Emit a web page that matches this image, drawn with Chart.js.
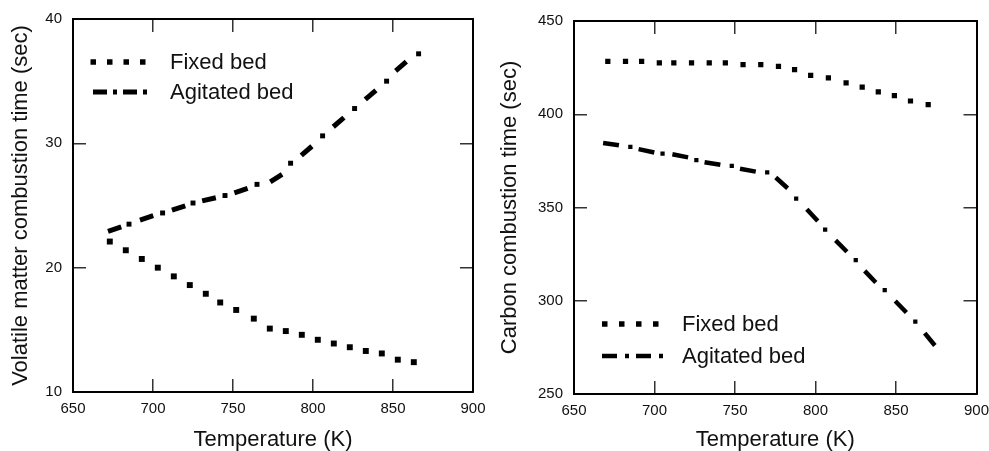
<!DOCTYPE html>
<html>
<head>
<meta charset="utf-8">
<title>Combustion time vs temperature</title>
<script src="https://cdn.jsdelivr.net/npm/chart.js@4.4.1/dist/chart.umd.min.js"></script>
<style>
  body { margin: 0; background: #fff; }
  #wrap { position: relative; width: 989px; height: 451px; }
  #volatile { position: absolute; left: 0; top: 0; }
  #carbon { position: absolute; left: 489px; top: 0; }
</style>
</head>
<body>
<div id="wrap">
  <canvas id="volatile" width="489" height="451"></canvas>
  <canvas id="carbon" width="500" height="451"></canvas>
</div>
<script>
const seriesNames = ['Fixed bed', 'Agitated bed'];
const tempTicks = [650, 700, 750, 800, 850, 900];
const volTicks = [10, 20, 30, 40];
const carTicks = [250, 300, 350, 400, 450];

// left panel - volatile matter combustion time (sec)
const volFixedT = [673, 683, 693, 703, 713, 723, 733, 742, 752, 763, 773, 783, 793, 803, 813, 823, 833, 843, 853, 863];
const volFixed = [22.1, 21.4, 20.7, 20.0, 19.3, 18.6, 17.9, 17.2, 16.6, 15.9, 15.1, 14.9, 14.6, 14.2, 13.9, 13.6, 13.3, 13.1, 12.6, 12.4];
const volAgitT = [676, 685, 696, 706, 716, 725, 735, 745, 755, 765, 777, 786, 796, 806, 816, 826, 836, 846, 855, 866];
const volAgit = [23.1, 23.5, 24.0, 24.4, 24.8, 25.2, 25.5, 25.8, 26.2, 26.7, 27.2, 28.4, 29.4, 30.6, 31.7, 32.8, 33.9, 35.0, 36.2, 37.2];

// right panel - carbon combustion time (sec)
const carFixedT = [671, 682, 692, 703, 712, 723, 734, 744, 755, 766, 777, 787, 797, 808, 819, 829, 839, 849, 859, 870];
const carFixed = [428.4, 428.4, 428.4, 427.5, 427.5, 427.5, 427.5, 427.5, 426.6, 426.6, 425.7, 423.9, 420.9, 419.5, 416.8, 414.6, 412.0, 410.0, 407.1, 405.2];
const carAgitT = [673, 685, 695, 705, 716, 726, 736, 748, 758, 770, 779, 788, 798, 806, 816, 825, 834, 843, 853, 862, 871];
const carAgit = [384.0, 382.5, 380.4, 378.9, 377.7, 375.4, 373.6, 372.3, 370.0, 368.8, 363.2, 354.8, 345.9, 338.2, 329.3, 321.8, 312.9, 305.7, 296.8, 288.8, 279.3];

const FONT = "'Liberation Sans', Arial, sans-serif";

function pts(xs, ys) {
  return xs.map((x, i) => ({ x: x, y: ys[i] }));
}

// angle of the curve at a point, so the dashes follow the line
function dashAngle(c) {
  const data = c.dataset.data, i = c.dataIndex;
  const a = data[Math.max(i - 1, 0)], b = data[Math.min(i + 1, data.length - 1)];
  const xs = c.chart.scales.x, ys = c.chart.scales.y;
  const dx = xs.getPixelForValue(b.x) - xs.getPixelForValue(a.x);
  const dy = ys.getPixelForValue(b.y) - ys.getPixelForValue(a.y);
  return Math.atan2(dy, dx) * 180 / Math.PI;
}

function fixedSet(data, r) {
  return {
    label: seriesNames[0], data: data, showLine: false,
    pointStyle: 'rect', pointRadius: r, pointBorderWidth: 0,
    pointBackgroundColor: '#000', pointBorderColor: '#000'
  };
}

function agitatedSet(data, dashR, dashW, dotR) {
  return {
    label: seriesNames[1], data: data, showLine: false,
    pointStyle: c => c.dataIndex % 2 ? 'rect' : 'line',
    pointRadius: c => c.dataIndex % 2 ? dotR : dashR,
    pointBorderWidth: c => c.dataIndex % 2 ? 0 : dashW,
    pointRotation: c => c.dataIndex % 2 ? 0 : dashAngle(c),
    pointBackgroundColor: '#000', pointBorderColor: '#000'
  };
}

function zeroPad(s) {
  s.paddingLeft = 0; s.paddingRight = 0; s.paddingTop = 0; s.paddingBottom = 0;
}

function scalesFor(yTicks, yTitle, yWidth, xHeight) {
  const grid = { drawOnChartArea: false, drawTicks: true, tickLength: -13, color: '#333', lineWidth: 1.5 };
  const border = { display: true, color: '#000', width: 2 };
  const xr = { type: 'linear', min: tempTicks[0], max: tempTicks[tempTicks.length - 1] };
  const yr = { type: 'linear', min: yTicks[0], max: yTicks[yTicks.length - 1] };
  const xStep = tempTicks[1] - tempTicks[0], yStep = yTicks[1] - yTicks[0];
  const tickFont = { family: FONT, size: 15 };
  const titleFont = { family: FONT, size: 22, lineHeight: 1 };
  return {
    x: Object.assign({}, xr, {
      position: 'bottom', grid: grid, border: border,
      ticks: { stepSize: xStep, padding: 21, font: tickFont, color: '#111', maxRotation: 0, autoSkip: false },
      title: { display: true, text: 'Temperature (K)', font: titleFont, color: '#111', padding: { top: 0, bottom: 0 } },
      afterFit: s => { s.height = xHeight; zeroPad(s); }
    }),
    y: Object.assign({}, yr, {
      position: 'left', grid: grid, border: border,
      ticks: { stepSize: yStep, padding: 24, font: tickFont, color: '#111', autoSkip: false },
      title: { display: true, text: yTitle, font: titleFont, color: '#111', padding: { top: 10, bottom: 0 } },
      afterFit: s => { s.width = yWidth; zeroPad(s); }
    }),
    x2: Object.assign({}, xr, {
      position: 'top', display: true, grid: grid, border: border,
      ticks: { display: false, stepSize: xStep },
      afterFit: s => { s.height = 0; zeroPad(s); }
    }),
    y2: Object.assign({}, yr, {
      position: 'right', display: true, grid: grid, border: border,
      ticks: { display: false, stepSize: yStep },
      afterFit: s => { s.width = 0; zeroPad(s); }
    })
  };
}

// legend drawn inside the plot with line-style samples
const sampleLegend = {
  id: 'sampleLegend',
  afterDraw(chart, args, opts) {
    const ctx = chart.ctx;
    ctx.save();
    opts.items.forEach(it => {
      ctx.beginPath();
      ctx.setLineDash(it.dash);
      ctx.lineWidth = it.width;
      ctx.lineCap = 'butt';
      ctx.strokeStyle = '#000';
      ctx.moveTo(it.x0, it.y);
      ctx.lineTo(it.x1, it.y);
      ctx.stroke();
      ctx.setLineDash([]);
      ctx.fillStyle = '#111';
      ctx.font = '22px ' + FONT;
      ctx.textBaseline = 'middle';
      ctx.textAlign = 'left';
      ctx.fillText(it.label, opts.textX, it.y + 1);
    });
    ctx.restore();
  }
};

function makeChart(id, datasets, scales, padding, legendOpts) {
  return new Chart(document.getElementById(id), {
    type: 'scatter',
    data: { datasets: datasets },
    options: {
      responsive: false,
      animation: false,
      events: [],
      layout: { padding: padding },
      scales: scales,
      plugins: {
        legend: { display: false },
        tooltip: { enabled: false },
        sampleLegend: legendOpts
      }
    },
    plugins: [sampleLegend]
  });
}

makeChart('volatile',
  [fixedSet(pts(volFixedT, volFixed), 4.2), agitatedSet(pts(volAgitT, volAgit), 7, 5, 3.5)],
  scalesFor(volTicks, 'Volatile matter combustion time (sec)', 73, 59),
  { left: 0, right: 16, top: 19, bottom: 0 },
  {
    textX: 170,
    items: [
      { label: seriesNames[0], y: 62, x0: 90.5, x1: 148, dash: [5.5, 11], width: 5.5 },
      { label: seriesNames[1], y: 92, x0: 93, x1: 149, dash: [14, 6, 4, 6], width: 5 }
    ]
  });

makeChart('carbon',
  [fixedSet(pts(carFixedT, carFixed), 3.7), agitatedSet(pts(carAgitT, carAgit), 8, 4.5, 3)],
  scalesFor(carTicks, 'Carbon combustion time (sec)', 85, 57),
  { left: 0, right: 11, top: 21, bottom: 0 },
  {
    textX: 193,
    items: [
      { label: seriesNames[0], y: 324, x0: 113, x1: 172, dash: [5.5, 11.5], width: 5.5 },
      { label: seriesNames[1], y: 356, x0: 113, x1: 174, dash: [15, 8, 4, 7], width: 4.5 }
    ]
  });
</script>
</body>
</html>
